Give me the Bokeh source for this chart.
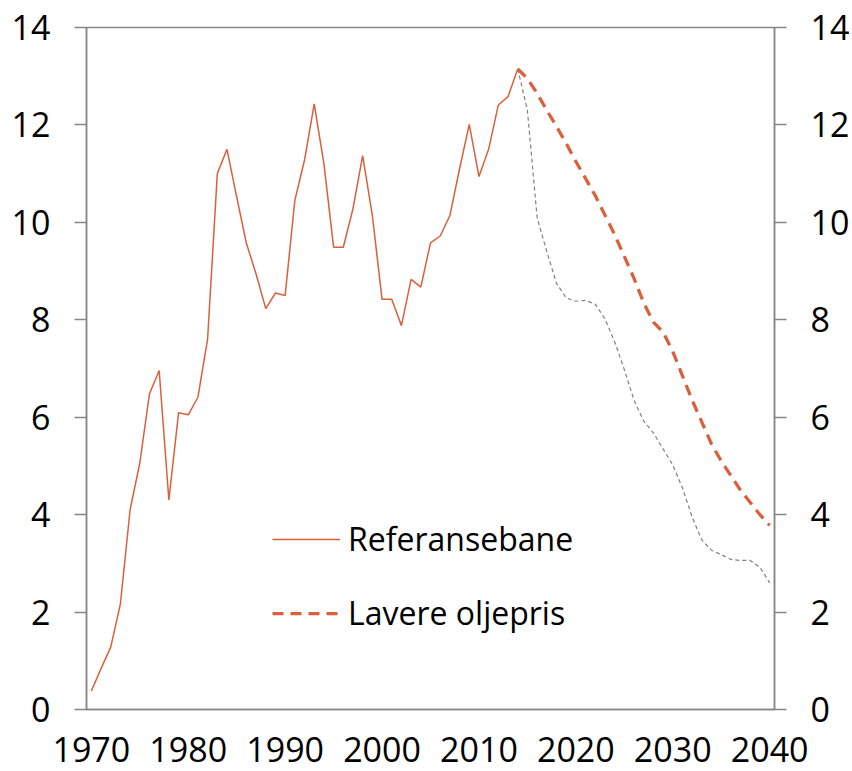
from bokeh.plotting import figure
from bokeh.models import LinearAxis, FixedTicker, Range1d, Legend, LegendItem
from bokeh.embed import file_html
from bokeh.resources import INLINE

# ---- data ----
hist_years = list(range(1970, 2015))
referansebane = [0.38, 0.84, 1.28, 2.17, 4.10, 5.06, 6.48, 6.96, 4.30, 6.09,
                 6.05, 6.41, 7.61, 11.00, 11.50, 10.52, 9.57, 8.94, 8.23, 8.55,
                 8.50, 10.45, 11.28, 12.43, 11.20, 9.49, 9.49, 10.28, 11.37, 10.14,
                 8.42, 8.42, 7.88, 8.83, 8.67, 9.58, 9.72, 10.14, 11.10, 12.01,
                 10.94, 11.50, 12.41, 12.58, 13.15]

proj_years = list(range(2014, 2041))
referanse_proj = [13.15, 12.95, 12.65, 12.30, 11.97, 11.62, 11.25, 10.90, 10.55, 10.15,
                  9.75, 9.30, 8.85, 8.35, 7.95, 7.75, 7.35, 6.85, 6.35, 5.90,
                  5.45, 5.10, 4.80, 4.50, 4.25, 4.00, 3.78]
lavere_oljepris = [13.15, 12.30, 10.10, 9.40, 8.75, 8.45, 8.38, 8.40, 8.32, 8.02,
                   7.55, 6.98, 6.35, 5.92, 5.68, 5.35, 5.02, 4.55, 3.95, 3.48,
                   3.27, 3.18, 3.08, 3.06, 3.06, 2.92, 2.60]

x_ticks = [1970, 1980, 1990, 2000, 2010, 2020, 2030, 2040]
y_ticks = [0, 2, 4, 6, 8, 10, 12, 14]
labels = ["Referansebane", "Lavere oljepris"]

RED = "#d9603b"
GREY = "#808080"
AX = "#868686"
FONT = "Open Sans"
TICK_FS = "34px"
LEG_FS = "32px"

p = figure(width=852, height=771, output_backend="svg", toolbar_location=None,
           x_range=Range1d(1969.5, 2040.5), y_range=Range1d(0, 14),
           min_border_left=86, min_border_right=75, min_border_top=27, min_border_bottom=62)
p.background_fill_color = "white"
p.border_fill_color = "white"
p.outline_line_color = AX
p.outline_line_width = 1.5
p.xgrid.visible = False
p.ygrid.visible = False

g = p.line(proj_years, lavere_oljepris, line_color=GREY, line_width=1.2, line_dash="4 3")
r2 = p.line(proj_years, referanse_proj, line_color=RED, line_width=3.25, line_dash="11 7")
r1 = p.line(hist_years, referansebane, line_color=RED, line_width=1.5)

def style(ax, ticks, tick_out=12):
    ax.ticker = FixedTicker(ticks=ticks)
    ax.axis_line_color = AX
    ax.axis_line_width = 1.5
    ax.major_tick_line_color = AX
    ax.major_tick_line_width = 1.5
    ax.major_tick_out = tick_out
    ax.major_tick_in = 0
    ax.minor_tick_line_color = None
    ax.major_label_text_font = FONT
    ax.major_label_text_font_size = TICK_FS
    ax.major_label_text_color = "black"

style(p.xaxis[0], x_ticks, tick_out=0)
p.xaxis[0].major_label_standoff = 27
style(p.yaxis[0], y_ticks)
p.yaxis[0].major_label_standoff = 24

right = LinearAxis()
style(right, y_ticks)
right.major_label_standoff = 24
p.add_layout(right, "right")

legend = Legend(items=[LegendItem(label=labels[0], renderers=[r1]),
                       LegendItem(label=labels[1], renderers=[r2])],
                location=(186, 75), orientation="vertical",
                padding=0, margin=0, spacing=31, glyph_width=68, glyph_height=40,
                label_height=40, label_standoff=8,
                label_text_font=FONT, label_text_font_size=LEG_FS, label_text_color="black",
                border_line_color=None, background_fill_alpha=0)
p.add_layout(legend, "center")

open("out.html", "w").write(file_html(p, INLINE))
